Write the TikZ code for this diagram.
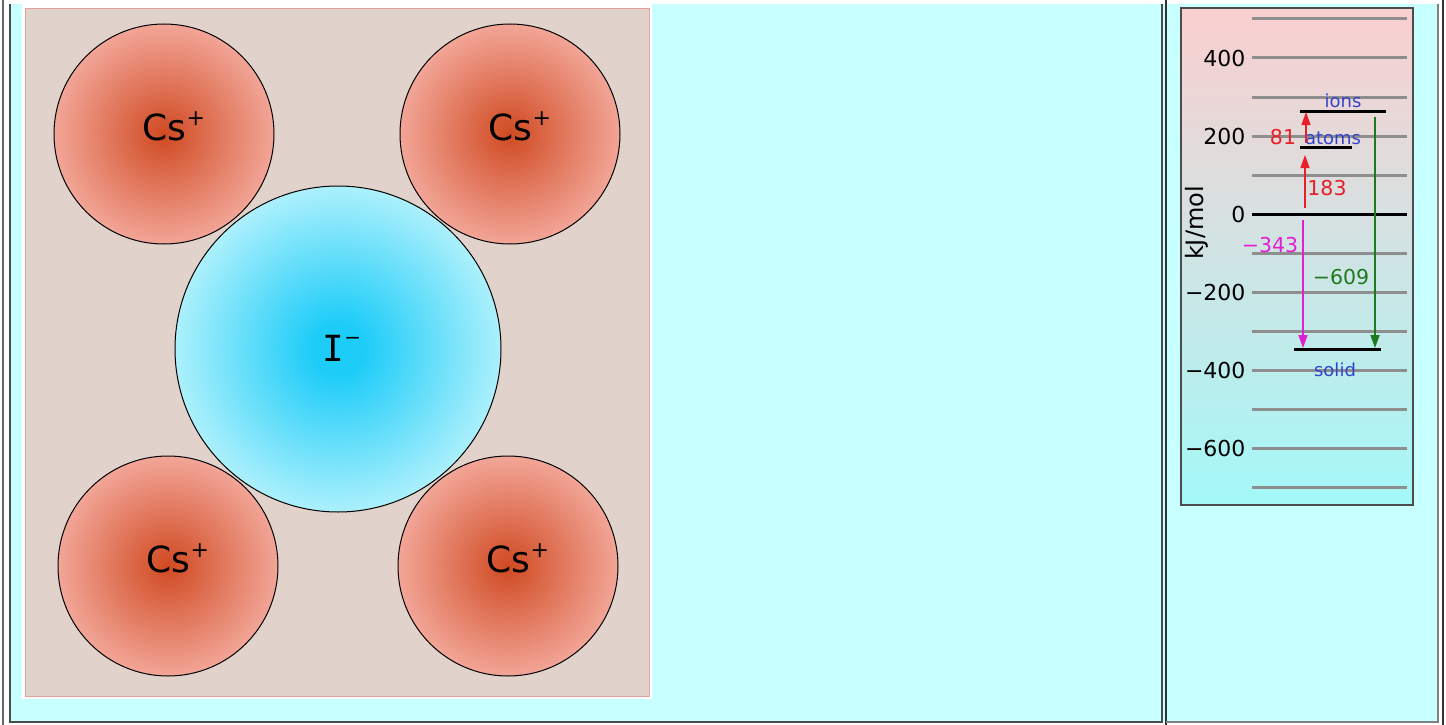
\documentclass[tikz,border=0pt]{standalone}
\usepackage{fontspec}
\setmainfont{DejaVu Sans}
\newfontfamily\slabfont{DejaVu Sans Mono}
\usepackage{xcolor}
\usepackage{tikz}
\usetikzlibrary{arrows.meta}

\definecolor{panelcyan}{HTML}{C8FFFF}
\definecolor{cellpink}{HTML}{E1D3CC}
\definecolor{celledge}{HTML}{E3A39C}
\definecolor{csin}{HTML}{D04A22}
\definecolor{csout}{HTML}{F2A597}
\definecolor{iin}{HTML}{1ECCF8}
\definecolor{iout}{HTML}{ACF0FC}
\definecolor{chartpink}{HTML}{FBCFCF}
\definecolor{chartcyan}{HTML}{A4F8F8}
\definecolor{gridgray}{HTML}{8E8E8E}
\definecolor{levelblue}{HTML}{3344CC}
\definecolor{stepred}{HTML}{E8202A}
\definecolor{stepmag}{HTML}{E020D0}
\definecolor{stepgreen}{HTML}{1E7A1E}

\pgfdeclareradialshading{csball}{\pgfpoint{0bp}{0bp}}{color(0bp)=(csin); color(25bp)=(csout); color(50bp)=(csout)}
\pgfdeclareradialshading{iball}{\pgfpoint{0bp}{0bp}}{color(0bp)=(iin); color(4bp)=(iin); color(25bp)=(iout); color(50bp)=(iout)}

\tikzset{edge/.style = {-{Triangle[length=13pt,width=9pt]}}}

\begin{document}
\begin{tikzpicture}[x=1pt,y=-1pt,
    cs node/.style={circle,draw,line width=1pt,shading=csball,minimum size=220pt,inner sep=0pt,
        label={[font=\fontsize{36}{42}\selectfont,xshift=10pt,yshift=8pt]center:Cs\raisebox{15pt}{\fontsize{22}{26}\selectfont+}}},
    i node/.style={circle,draw,line width=1pt,shading=iball,minimum size=326pt,inner sep=0pt,
        label={[font=\fontsize{36}{42}\selectfont,xshift=4pt,yshift=1pt]center:{\slabfont I}\raisebox{17pt}{\fontsize{20}{24}\selectfont\char"2212}}},
    tick/.style={anchor=east,font=\fontsize{22}{26}\selectfont},
    level/.style={line width=3pt,black},
    grid line/.style={line width=3pt,gridgray},
    level label/.style={font=\fontsize{18}{20}\selectfont,levelblue},
    step label/.style={font=\fontsize{20.5}{24}\selectfont}]
    \useasboundingbox (0,0) rectangle (1446,725);

    % frames
    \fill[white] (0,0) rectangle (1446,725);
    \fill[panelcyan] (10,4) rectangle (1438,722);
    \draw[gray!80!black,line width=1.2pt] (3,0) -- (3,725);
    \draw[gray!60!black,line width=1.2pt] (10,4) -- (10,722) -- (1162,722) -- (1162,4);
    \draw[black!80,line width=1.2pt] (1166,0) -- (1166,725);
    \draw[gray,line width=1.2pt] (1166,722) -- (1438,722) -- (1438,4);
    \draw[black!80,line width=1.2pt] (1443,0) -- (1443,725);

    % unit cell
    \fill[white] (22,4) rectangle (652,699);
    \filldraw[fill=cellpink,draw=celledge] (25,8) rectangle (649,696);

    \node[cs node] (cs1) at (164,134) {};
    \node[cs node] (cs2) at (510,134) {};
    \node[cs node] (cs3) at (168,566) {};
    \node[cs node] (cs4) at (508,566) {};
    \node[i node] (i1) at (338,349) {};

    % energy chart
    \shade[top color=chartpink,bottom color=chartcyan] (1181,8) rectangle (1413,505);
    \draw[black!70,line width=1.2pt] (1181,8) rectangle (1413,505);

    \foreach \e in {500,400,...,-700}
        \draw[grid line] (1252,214-0.39*\e) -- (1407,214-0.39*\e);
    \draw[level] (1252,214) -- (1407,214);

    \foreach \e/\t in {400/400,200/200,0/0,-200/\char"2212 200,-400/\char"2212 400,-600/\char"2212 600}
        \node[tick] (t\e) at (1249,214-0.39*\e) {\t};
    \node[rotate=90,font=\fontsize{24}{28}\selectfont] (unit) at (1197,223) {kJ/mol};

    % levels
    \coordinate (ionsL) at (1300,111);
    \coordinate (ionsR) at (1386,111);
    \coordinate (atomsL) at (1300,147);
    \coordinate (atomsR) at (1352,147);
    \coordinate (solidL) at (1294,349);
    \coordinate (solidR) at (1381,349);
    \draw[level] (ionsL) -- (ionsR);
    \draw[level] (atomsL) -- (atomsR);
    \draw[level] (solidL) -- (solidR);
    \node[level label] (ions) at (1343,101) {ions};
    \node[level label] (atoms) at (1333,138) {atoms};
    \node[level label] (solid) at (1335,370) {solid};

    % steps
    \coordinate (a0) at (1305,208);
    \coordinate (a1) at (1305,155);
    \coordinate (b0) at (1306,143);
    \coordinate (b1) at (1306,112);
    \coordinate (c0) at (1303,220);
    \coordinate (c1) at (1303,348);
    \coordinate (d0) at (1375,117);
    \coordinate (d1) at (1375,348);

    \path[edge,line width=1.5pt] (a0) edge[stepred] (a1);
    \path[edge,line width=1.5pt] (b0) edge[stepred] (b1);
    \path[edge,line width=1.5pt] (c0) edge[stepmag] (c1);
    \path[edge,line width=1.5pt] (d0) edge[stepgreen] (d1);

    \node[step label,stepred] (e183) at (1327,188) {183};
    \node[step label,stepred] (e81) at (1283,137) {81};
    \node[step label,stepmag] (e343) at (1270,245) {\char"2212 343};
    \node[step label,stepgreen] (e609) at (1341,277) {\char"2212 609};
\end{tikzpicture}
\end{document}
